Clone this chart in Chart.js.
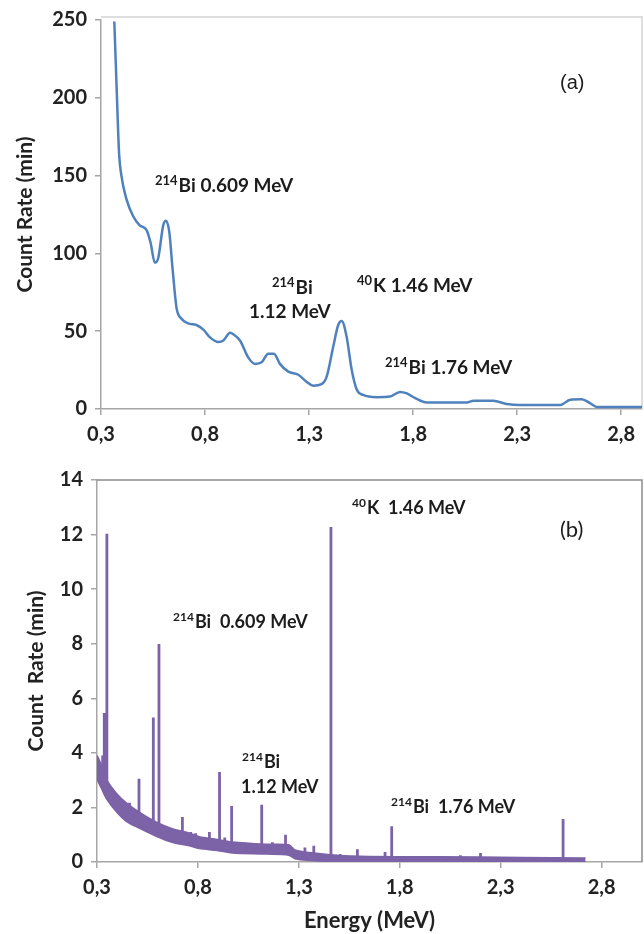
<!DOCTYPE html>
<html lang="en">
<head>
<meta charset="UTF-8">
<title>Gamma spectra</title>
<script src="https://cdn.jsdelivr.net/npm/chart.js@4.4.0/dist/chart.umd.min.js"></script>
<style>
  body { margin: 0; background: #fff; }
  .wrap { position: relative; width: 644px; height: 934px; }
  canvas { position: absolute; left: 0; }
  #chartA { top: 0; }
  #chartB { top: 460px; }
</style>
</head>
<body>
<div class="wrap">
  <canvas id="chartA" width="644" height="460"></canvas>
  <canvas id="chartB" width="644" height="474"></canvas>
</div>
<script>
// (a) smoothed spectrum
const aEnergy = [0.364, 0.375, 0.387, 0.398, 0.422, 0.454, 0.486, 0.519, 0.538, 0.559, 0.575, 0.599, 0.612, 0.628, 0.644,
  0.663, 0.687, 0.719, 0.759, 0.792, 0.824, 0.864, 0.888, 0.920, 0.936, 0.968, 1.008, 1.040, 1.072, 1.104, 1.131, 1.160,
  1.200, 1.248, 1.288, 1.320, 1.360, 1.385, 1.416, 1.440, 1.457, 1.481, 1.505, 1.529, 1.560, 1.625, 1.689, 1.737, 1.770,
  1.810, 1.866, 2.058, 2.090, 2.185, 2.250, 2.314, 2.507, 2.555, 2.610, 2.650, 2.683, 2.900];
const aCount = [249, 207, 164, 150, 135, 124, 118, 115, 107, 94, 97, 118, 121, 114, 90,
  65, 58, 55, 54, 51, 46, 43, 44, 49, 48, 44, 33, 29, 30, 35.5, 35.5, 29,
  24, 22, 17.5, 15, 16, 21, 40, 54, 56.5, 46, 25, 12.5, 9, 7.6, 8, 11, 10,
  7, 4.2, 4.2, 5.3, 5.3, 3.2, 2.5, 2.5, 6, 6.3, 3.8, 1.3, 1.3];
const aYTicks = [0, 50, 100, 150, 200, 250];

// (b) raw spectrum: noisy continuum band + line peaks
const bEnergy = [0.3, 0.323, 0.348, 0.397, 0.446, 0.512, 0.594, 0.676, 0.758, 0.807, 0.896, 0.97, 1.136, 1.25, 1.284, 1.44, 1.6, 2.0, 2.4, 2.72];
const bUpper = [3.9, 3.5, 3.0, 2.5, 2.15, 1.8, 1.45, 1.2, 1.05, 0.92, 0.82, 0.72, 0.64, 0.62, 0.42, 0.27, 0.2, 0.18, 0.16, 0.14];
const bLower = [3.05, 2.7, 2.32, 1.85, 1.5, 1.24, 0.95, 0.72, 0.6, 0.5, 0.43, 0.34, 0.3, 0.26, 0.12, 0.03, 0.01, 0.01, 0.01, 0.01];
const peakEnergy = [0.328, 0.336, 0.349, 0.461, 0.508, 0.579, 0.607, 0.723, 0.764, 0.789, 0.857, 0.907, 0.933, 0.967, 1.116,
  1.169, 1.234, 1.33, 1.374, 1.459, 1.505, 1.59, 1.727, 1.76, 1.845, 2.1, 2.2, 2.609];
const peakTop = [3.9, 5.46, 12.03, 2.17, 3.05, 5.3, 7.99, 1.65, 1.1, 1.05, 1.1, 3.3, 0.9, 2.05, 2.1,
  0.72, 1.0, 0.53, 0.6, 12.28, 0.29, 0.47, 0.37, 1.31, 0.22, 0.25, 0.33, 1.58];
const peakBase = [3.2, 2.9, 2.7, 1.8, 1.5, 1.2, 1.15, 0.9, 0.8, 0.75, 0.68, 0.6, 0.58, 0.55, 0.45,
  0.45, 0.44, 0.2, 0.15, 0.1, 0.1, 0.1, 0.1, 0.1, 0.1, 0.1, 0.1, 0.1];
const bYTicks = [0, 2, 4, 6, 8, 10, 12, 14];

const xTicks = [0.3, 0.8, 1.3, 1.8, 2.3, 2.8];
const xTickLabels = ['0,3', '0,8', '1,3', '1,8', '2,3', '2,8'];

const blue = '#4f81bd';
const purple = '#7c62a6';
const axisGray = '#a6a6a6';
const tickFont = { family: 'Lato', size: 20, weight: 'bold' };

// box lines on top and right of the plot area
const frame = {
  id: 'frame',
  beforeDatasetsDraw(chart, args, opts) {
    const { ctx, chartArea: a } = chart;
    ctx.save();
    ctx.strokeStyle = opts.color;
    ctx.lineWidth = 1.5;
    ctx.beginPath();
    ctx.moveTo(a.left, a.top - opts.lift);
    ctx.lineTo(a.right, a.top - opts.lift);
    ctx.lineTo(a.right, a.bottom);
    ctx.stroke();
    ctx.restore();
  }
};

// peak labels with superscript mass numbers
const notes = {
  id: 'notes',
  afterDraw(chart, args, opts) {
    const ctx = chart.ctx;
    ctx.save();
    ctx.textBaseline = 'middle';
    ctx.fillStyle = '#1c1c1c';
    opts.items.forEach(it => {
      let x = it.x;
      if (it.sup) {
        ctx.font = `bold ${opts.supSize}px Lato`;
        ctx.fillText(it.sup, x, it.y - opts.supRise);
        x += ctx.measureText(it.sup).width + 1;
      }
      ctx.font = it.font || `bold ${opts.size}px Lato`;
      ctx.fillText(it.text, x, it.y);
    });
    ctx.restore();
  }
};

function xAxis(max, height, title) {
  return {
    type: 'linear', min: 0.3, max: max,
    afterBuildTicks: s => { s.ticks = xTicks.map(v => ({ value: v })); },
    afterFit: s => { s.height = height; },
    ticks: { callback: (v, i) => xTickLabels[i], font: tickFont, color: '#222', padding: 8, maxRotation: 0, autoSkip: false },
    grid: { drawOnChartArea: false, tickLength: 6, color: axisGray, lineWidth: 1.5 },
    border: { color: axisGray, width: 1.5 },
    title: title
  };
}

function yAxis(max, ticks, width, title, pad) {
  return {
    type: 'linear', min: 0, max: max,
    afterBuildTicks: s => { s.ticks = ticks.map(v => ({ value: v })); },
    afterFit: s => { s.width = width; },
    ticks: { font: tickFont, color: '#222', padding: 8 },
    grid: { drawOnChartArea: false, tickLength: 6, color: axisGray, lineWidth: 1.5 },
    border: { color: axisGray, width: 1.5 },
    title: { display: true, text: title, font: { family: 'Lato', size: 21, weight: 'bold' }, color: '#222', padding: { top: pad } }
  };
}

const pts = (xs, ys) => xs.map((x, i) => ({ x: x, y: ys[i] }));

new Chart(document.getElementById('chartA'), {
  type: 'line',
  data: {
    datasets: [{
      data: pts(aEnergy, aCount),
      borderColor: blue, borderWidth: 2.5, pointRadius: 0,
      cubicInterpolationMode: 'monotone', fill: false
    }]
  },
  options: {
    responsive: false, animation: false,
    layout: { padding: { left: 0, top: 15, right: 2, bottom: 0 } },
    plugins: {
      legend: { display: false }, tooltip: { enabled: false },
      frame: { color: '#d4d4d4', lift: 3 },
      notes: {
        size: 19, supSize: 13, supRise: 5,
        items: [
          { sup: '214', text: 'Bi 0.609 MeV', x: 155, y: 186 },
          { sup: '214', text: 'Bi', x: 272, y: 288 },
          { text: '1.12 MeV', x: 249, y: 312 },
          { sup: '40', text: 'K 1.46 MeV', x: 357, y: 286 },
          { sup: '214', text: 'Bi 1.76 MeV', x: 385, y: 368 },
          { text: '(a)', x: 560, y: 83, font: '20px "Liberation Sans"' }
        ]
      }
    },
    scales: {
      x: xAxis(2.9, 51, { display: false }),
      y: yAxis(250, aYTicks, 101, 'Count Rate (min)', 13)
    }
  },
  plugins: [frame, notes]
});

// spikes: base -> top, broken by a gap
const spikeData = [];
peakEnergy.forEach((e, i) => {
  spikeData.push({ x: e, y: peakBase[i] }, { x: e, y: peakTop[i] }, { x: e, y: null });
});

new Chart(document.getElementById('chartB'), {
  type: 'line',
  data: {
    datasets: [
      { data: pts(bEnergy, bLower), borderColor: purple, borderWidth: 2, pointRadius: 0, tension: 0.3, fill: false },
      { data: pts(bEnergy, bUpper), borderColor: purple, borderWidth: 2, pointRadius: 0, tension: 0.3, fill: '-1', backgroundColor: purple },
      { data: spikeData, borderColor: purple, borderWidth: 2.8, pointRadius: 0, tension: 0, spanGaps: false, fill: false }
    ]
  },
  options: {
    responsive: false, animation: false,
    layout: { padding: { left: 0, top: 14, right: 2, bottom: 0 } },
    plugins: {
      legend: { display: false }, tooltip: { enabled: false },
      frame: { color: '#8c8c8c', lift: 0 },
      notes: {
        size: 18, supSize: 12, supRise: 5,
        items: [
          { sup: '40', text: 'K  1.46 MeV', x: 352, y: 48 },
          { text: '(b)', x: 560, y: 70, font: '22px Lato' },
          { sup: '214', text: 'Bi  0.609 MeV', x: 173, y: 162 },
          { sup: '214', text: 'Bi', x: 242, y: 302 },
          { text: '1.12 MeV', x: 241, y: 327 },
          { sup: '214', text: 'Bi  1.76 MeV', x: 391, y: 347 }
        ]
      }
    },
    scales: {
      x: xAxis(3.0, 72, { display: true, text: 'Energy (MeV)', font: { family: 'Lato', size: 22, weight: 'bold' }, color: '#222', padding: { bottom: 0 } }),
      y: yAxis(14, bYTicks, 97, 'Count  Rate (min)', 24)
    }
  },
  plugins: [frame, notes]
});
</script>
</body>
</html>
